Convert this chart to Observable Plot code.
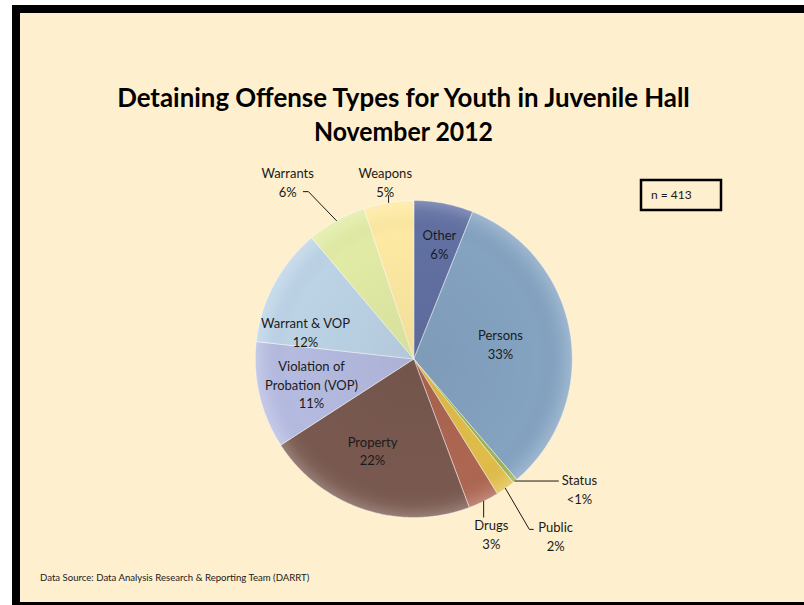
<!DOCTYPE html>
<html>
<head>
<meta charset="utf-8">
<script src="https://cdn.jsdelivr.net/npm/d3@7"></script>
<script src="https://cdn.jsdelivr.net/npm/@observablehq/plot@0.6"></script>
<style>
  html, body { margin: 0; padding: 0; background: #ffffff; width: 804px; height: 605px; overflow: hidden; }
  #frame { position: absolute; left: 12px; top: 5px; width: 900px; height: 589px;
           border-left: 8px solid #000; border-top: 8px solid #000; border-bottom: 8px solid #000;
           background: #FEEFCE; }
  #chart { position: absolute; left: 0; top: 0; width: 804px; height: 605px; }
</style>
</head>
<body>
<div id="frame"></div>
<div id="chart"></div>
<script>
// ---- data ----
const categories = ["Other", "Persons", "Status", "Public", "Drugs", "Property",
  "Violation of Probation (VOP)", "Warrant & VOP", "Warrants", "Weapons"];
const labelNames = ["Other", "Persons", "Status", "Public", "Drugs", "Property",
  "Violation of\nProbation (VOP)", "Warrant & VOP", "Warrants", "Weapons"];
const counts = [25, 135, 2, 8, 13, 89, 45, 50, 25, 21];
const sampleSize = "n = 413";
const titleLines = ["Detaining Offense Types for Youth in Juvenile Hall", "November 2012"];
const sourceText = "Data Source: Data Analysis Research & Reporting Team (DARRT)";

// ---- style / layout ----
const colors = ["#6170a2", "#84a3c1", "#9cb455", "#e0bd4a", "#ad6652", "#79594f",
  "#b5bbe0", "#bcd3e6", "#e1eba5", "#fde9a2"];
// label placement: angle offset from slice mid-angle (deg) and radius factor
const labelAngleOffset = [1.6, -0.6, -12.3, -3.5, 2.2, 6.1, -0.2, -13.9, -6.2, 0];
const labelRadius = [0.745, 0.555, 1.327, 1.428, 1.205, 0.63, 0.664, 0.705, 1.374, 1.134];
// leader lines for outside labels: [dx1, dy1, dx2] in radius units (null = none)
const leaders = [null, null, [0.274, 0, 0], [0.151, -0.259, 0.025], [0, -0.10, 0],
  null, null, null, [-0.177, 0.183, -0.032], [0, 0.044, 0]];

const total = d3.sum(counts);
const arcs = d3.pie().sort(null).value(d => d)(counts);

const slicePts = [];
arcs.forEach((a, i) => {
  const n = Math.max(2, Math.ceil((a.endAngle - a.startAngle) / (Math.PI / 360)));
  slicePts.push({cat: i, x: 0, y: 0});
  for (let k = 0; k <= n; k++) {
    const t = a.startAngle + (a.endAngle - a.startAngle) * k / n;
    slicePts.push({cat: i, x: Math.sin(t), y: Math.cos(t)});
  }
  slicePts.push({cat: i, x: 0, y: 0});
});

const pct = c => {
  const p = c / total * 100;
  return p < 1 ? "<1%" : Math.round(p) + "%";
};

const labels = arcs.map((a, i) => {
  const mid = (a.startAngle + a.endAngle) / 2 + labelAngleOffset[i] * Math.PI / 180;
  return {cat: i, x: Math.sin(mid) * labelRadius[i], y: Math.cos(mid) * labelRadius[i],
          text: labelNames[i] + "\n" + pct(counts[i])};
});

const leaderPts = [];
arcs.forEach((a, i) => {
  const L = leaders[i];
  if (!L) return;
  const mid = (a.startAngle + a.endAngle) / 2;
  const p0 = {cat: i, x: Math.sin(mid), y: Math.cos(mid)};
  const p1 = {cat: i, x: p0.x + L[0], y: p0.y + L[1]};
  leaderPts.push(p0, p1);
  if (L[2]) leaderPts.push({cat: i, x: p1.x + L[2], y: p1.y});
});

// outline of whole pie for shading overlay
const rimPts = d3.range(0, 361, 1).map(d => ({x: Math.sin(d * Math.PI / 180), y: Math.cos(d * Math.PI / 180)}));

const cx = 413.3, cy = 358.5, R = 158.5;

const plot = Plot.plot({
  width: 804,
  height: 605,
  x: {domain: [-1, 1], range: [cx - R, cx + R], axis: null},
  y: {domain: [-1, 1], range: [cy + R, cy - R], axis: null},
  color: {type: "identity"},
  style: {background: "transparent", fontFamily: "Lato, sans-serif", overflow: "visible"},
  marks: [
    Plot.line(slicePts, {x: "x", y: "y", z: "cat", fill: d => colors[d.cat],
      stroke: "#ffffff", strokeOpacity: 0.45, strokeWidth: 1, strokeLinejoin: "round", curve: "linear"}),
    Plot.line(rimPts, {x: "x", y: "y", fill: "url(#pieShade)", stroke: "none"}),
    Plot.line(leaderPts, {x: "x", y: "y", z: "cat", stroke: "#000", strokeWidth: 0.9}),
    Plot.text(labels, {x: "x", y: "y", text: "text", fontSize: 13, lineHeight: 1.45,
      fill: "#1a1a1a", textAnchor: "middle"})
  ]
});
document.getElementById("chart").appendChild(plot);

const svg = d3.select(plot);
const defs = svg.insert("defs", ":first-child");
const rg = defs.append("radialGradient").attr("id", "pieShade")
  .attr("gradientUnits", "userSpaceOnUse").attr("cx", cx).attr("cy", cy).attr("r", R);
rg.append("stop").attr("offset", "0%").attr("stop-color", "#000").attr("stop-opacity", 0.05);
rg.append("stop").attr("offset", "80%").attr("stop-color", "#000").attr("stop-opacity", 0);
rg.append("stop").attr("offset", "93%").attr("stop-color", "#fff").attr("stop-opacity", 0.06);
rg.append("stop").attr("offset", "100%").attr("stop-color", "#fff").attr("stop-opacity", 0.22);

// title
const t1 = svg.append("text").attr("x", 403.5).attr("y", 107)
  .attr("text-anchor", "middle").attr("font-family", "Lato, sans-serif")
  .attr("font-weight", "bold").attr("font-size", 26).attr("fill", "#000").text(titleLines[0]);
const w1 = t1.node().getComputedTextLength();
const sx = 573 / w1;
t1.attr("transform", `translate(403.5,0) scale(${sx},1) translate(-403.5,0)`);
svg.append("text").attr("x", 403.5).attr("y", 141)
  .attr("text-anchor", "middle").attr("font-family", "Lato, sans-serif")
  .attr("font-weight", "bold").attr("font-size", 26).attr("fill", "#000")
  .attr("transform", `translate(403.5,0) scale(${sx * 0.96},1) translate(-403.5,0)`)
  .text(titleLines[1]);

// n box
svg.append("rect").attr("x", 641).attr("y", 180).attr("width", 80).attr("height", 30)
  .attr("fill", "none").attr("stroke", "#000").attr("stroke-width", 2.5);
svg.append("text").attr("x", 651).attr("y", 199).attr("text-anchor", "start")
  .attr("font-family", "Lato, sans-serif")
  .attr("font-size", 12).attr("fill", "#1a1a1a").text(sampleSize);

// source
svg.append("text").attr("x", 40).attr("y", 581).attr("text-anchor", "start")
  .attr("font-family", "Lato, sans-serif")
  .attr("font-size", 9.6).attr("fill", "#1a1a1a").text(sourceText);
</script>
</body>
</html>
